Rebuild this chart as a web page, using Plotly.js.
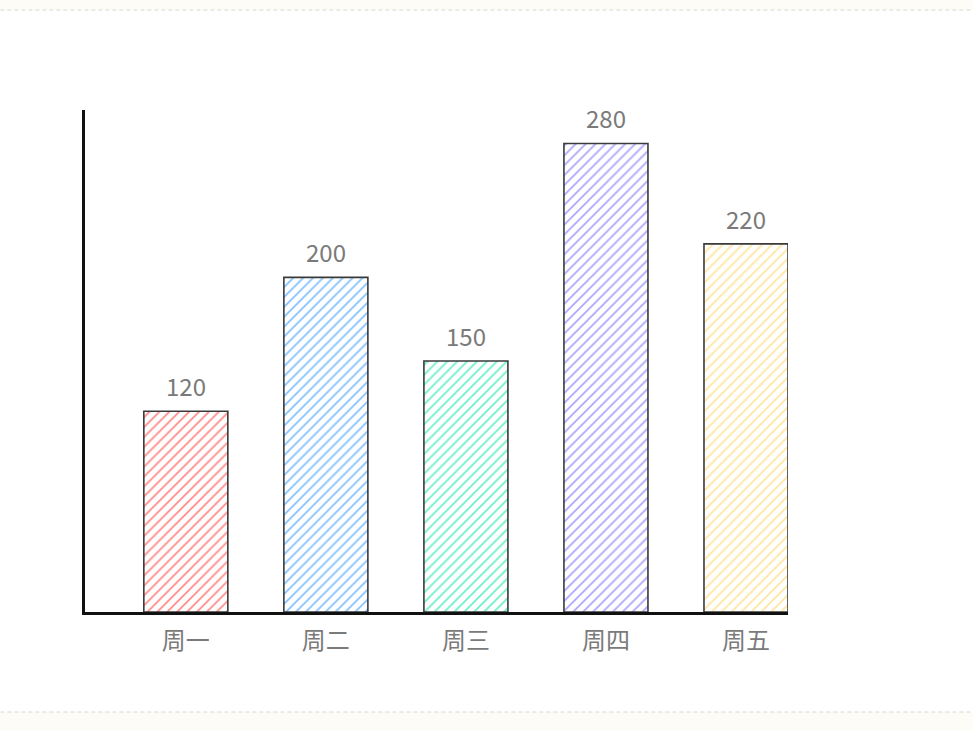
<!DOCTYPE html>
<html>
<head>
<meta charset="utf-8">
<script src="https://cdn.plot.ly/plotly-3.0.1.min.js"></script>
<style>
    html, body { margin: 0; padding: 0; background: #fdfcf7; }
    #chart { width: 973px; height: 730px; }
</style>
</head>
<body>
<div id="chart"></div>
<script>
// weekly values, one bar per day
const days = ['周一', '周二', '周三', '周四', '周五'];
const values = [120, 200, 150, 280, 220];
const hatchColors = ['#ff8c8b', '#86c2ff', '#6ef0c9', '#aea7fe', '#ffe6a0'];

window.onload = main;

function main() {
    const bars = {
        type: 'bar',
        x: days,
        y: values,
        width: 0.6,
        marker: {
            color: 'rgba(255,255,255,0)',
            line: { color: '#3a3a3a', width: 1.6 },
            pattern: {
                shape: '/',
                fgcolor: hatchColors,
                bgcolor: '#ffffff',
                size: 7,
                solidity: 0.25,
                fillmode: 'replace'
            }
        },
        hoverinfo: 'none'
    };

    // value labels sit a little above each bar
    const labels = days.map((d, i) => ({
        x: d,
        y: values[i],
        text: String(values[i]),
        showarrow: false,
        yanchor: 'bottom',
        yshift: 6,
        font: { family: 'Noto Sans CJK SC, Noto Sans, sans-serif', size: 24, color: '#7a7a7a' }
    }));

    // page frame: white sheet between two dashed rules on a cream page
    const px = v => (612 - v) / 502;
    const shapes = [
        { type: 'rect', xref: 'paper', yref: 'paper', x0: -0.2, x1: 1.4, y0: px(712), y1: px(10),
          fillcolor: '#ffffff', line: { width: 0 }, layer: 'below' },
        { type: 'line', xref: 'paper', yref: 'paper', x0: -0.2, x1: 1.4, y0: px(10), y1: px(10),
          line: { color: '#d6d6d6', width: 1, dash: '4px,3px' }, layer: 'below' },
        { type: 'line', xref: 'paper', yref: 'paper', x0: -0.2, x1: 1.4, y0: px(712), y1: px(712),
          line: { color: '#d2d8dc', width: 1, dash: '4px,3px' }, layer: 'below' }
    ];

    const layout = {
        width: 973,
        height: 730,
        margin: { l: 85, r: 185, t: 110, b: 118 },
        paper_bgcolor: '#fdfcf7',
        plot_bgcolor: 'rgba(0,0,0,0)',
        showlegend: false,
        font: { family: 'Noto Sans CJK SC, Noto Sans, sans-serif' },
        xaxis: {
            range: [-0.72, 4.3],
            showline: true,
            linecolor: '#111111',
            linewidth: 3,
            showgrid: false,
            zeroline: false,
            ticks: '',
            ticklabelstandoff: 5,
            tickfont: { size: 24, color: '#7a7a7a' },
            fixedrange: true
        },
        yaxis: {
            range: [0, 300],
            showline: true,
            linecolor: '#111111',
            linewidth: 3,
            showgrid: false,
            zeroline: false,
            showticklabels: false,
            ticks: '',
            fixedrange: true
        },
        annotations: labels,
        shapes: shapes
    };

    Plotly.newPlot('chart', [bars], layout, { displayModeBar: false, staticPlot: true });
}
</script>
</body>
</html>
